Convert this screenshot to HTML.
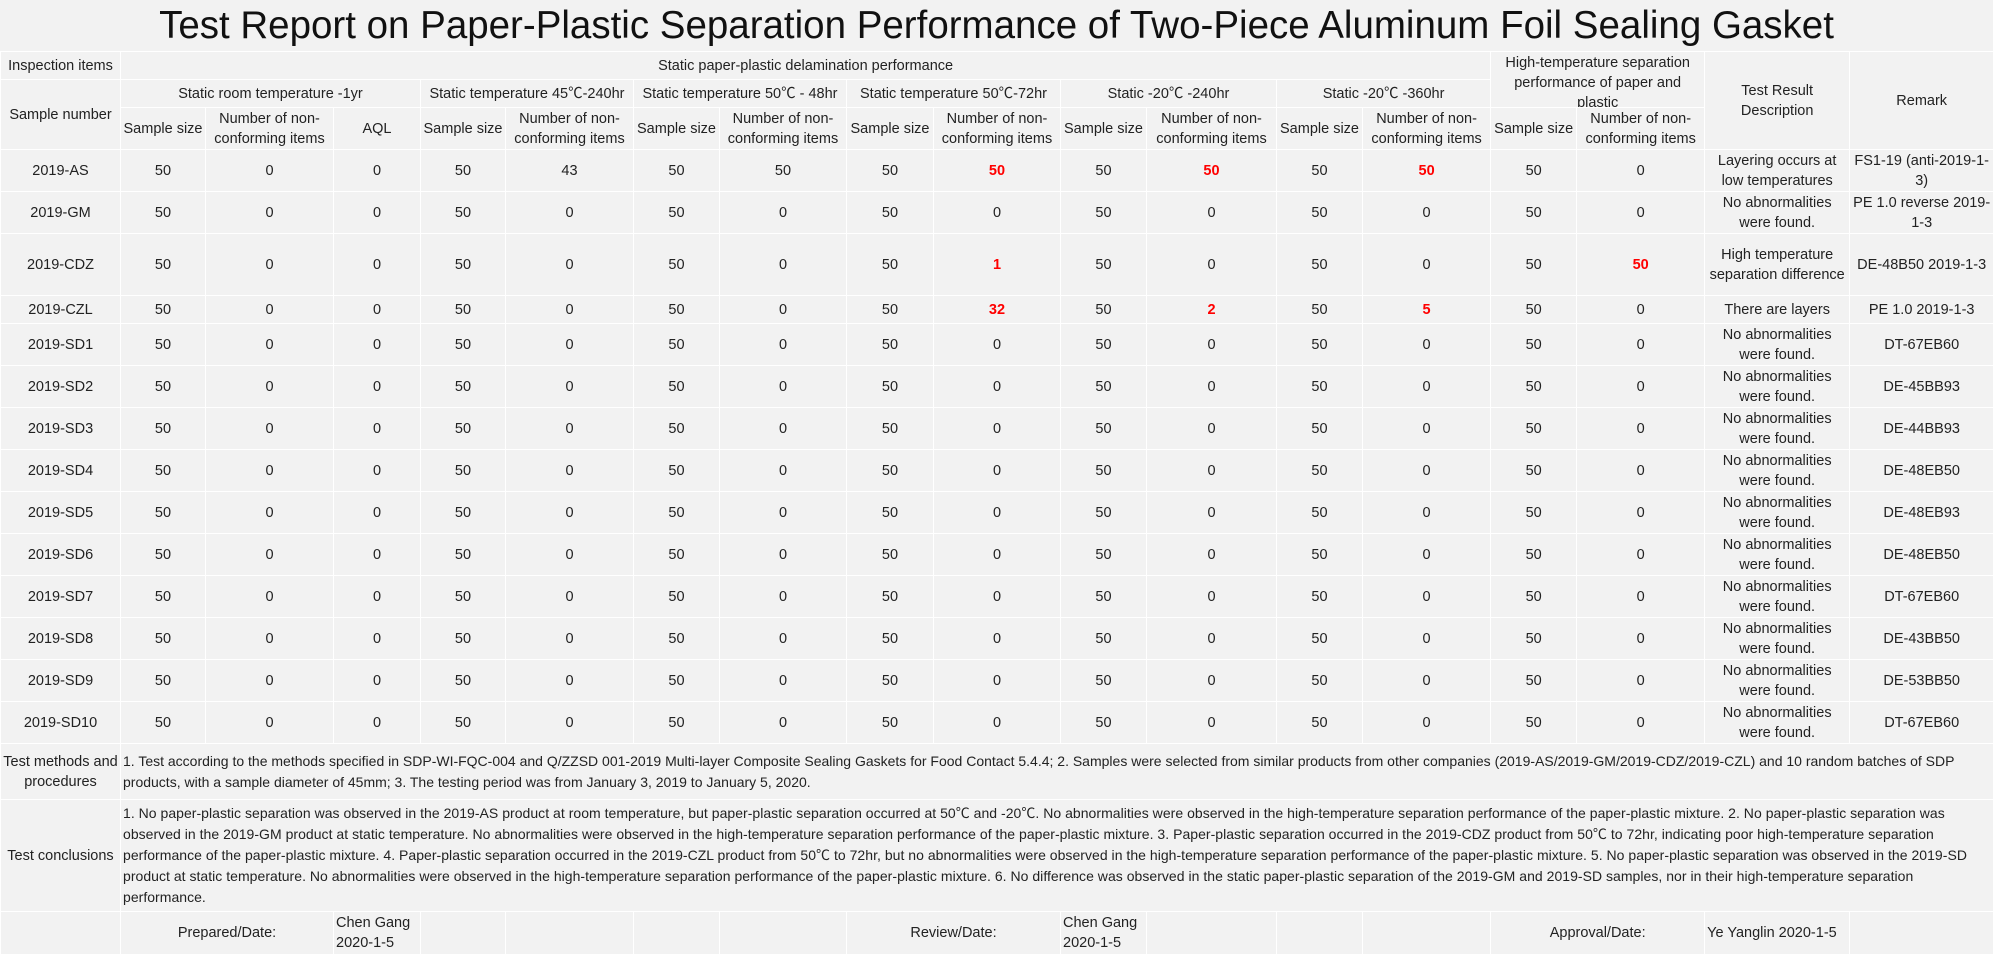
<!DOCTYPE html>
<html><head><meta charset="utf-8"><style>
html,body{margin:0;padding:0;background:#f2f2f2;}
body{width:1993px;height:954px;overflow:hidden;font-family:"Liberation Sans","Noto Sans CJK SC",sans-serif;color:#222;}
.title{height:51px;line-height:51px;text-align:center;font-size:38.5px;color:#111;white-space:nowrap;}
table{border-collapse:collapse;table-layout:fixed;width:1993px;font-size:14.5px;}
td{border:1px solid #fff;text-align:center;vertical-align:middle;padding:0 2px;line-height:20px;overflow:hidden;background:#f2f2f2;}
.r{color:#ff0000;font-weight:bold;}
.l{text-align:left;}
.c{font-size:14px;line-height:21px;}
.cc{letter-spacing:0.03px;}
.clip{height:54px;overflow:hidden;}
</style></head><body>
<div class="title">Test Report on Paper-Plastic Separation Performance of Two-Piece Aluminum Foil Sealing Gasket</div>
<table>
<colgroup>
<col style="width:120px"><col style="width:85px"><col style="width:128px"><col style="width:87px"><col style="width:85px"><col style="width:128px"><col style="width:86px"><col style="width:127px"><col style="width:87px"><col style="width:127px"><col style="width:86px"><col style="width:130px"><col style="width:86px"><col style="width:128px"><col style="width:86px"><col style="width:128px"><col style="width:145px"><col style="width:144px">
</colgroup>
<tr style="height:28px"><td>Inspection items</td><td colspan="13">Static paper-plastic delamination performance</td><td colspan="2" rowspan="2"><div class="clip">High-temperature separation performance of paper and plastic</div></td><td rowspan="3">Test Result Description</td><td rowspan="3">Remark</td></tr>
<tr style="height:28px"><td rowspan="2">Sample number</td><td colspan="3">Static room temperature -1yr</td><td colspan="2">Static temperature 45℃-240hr</td><td colspan="2">Static temperature 50℃ - 48hr</td><td colspan="2">Static temperature 50℃-72hr</td><td colspan="2">Static -20℃ -240hr</td><td colspan="2">Static -20℃ -360hr</td></tr>
<tr style="height:42px"><td>Sample size</td><td>Number of non-conforming items</td><td>AQL</td><td>Sample size</td><td>Number of non-conforming items</td><td>Sample size</td><td>Number of non-conforming items</td><td>Sample size</td><td>Number of non-conforming items</td><td>Sample size</td><td>Number of non-conforming items</td><td>Sample size</td><td>Number of non-conforming items</td><td>Sample size</td><td>Number of non-conforming items</td></tr>
<tr style="height:42px"><td>2019-AS</td><td>50</td><td>0</td><td>0</td><td>50</td><td>43</td><td>50</td><td>50</td><td>50</td><td class="r">50</td><td>50</td><td class="r">50</td><td>50</td><td class="r">50</td><td>50</td><td>0</td><td>Layering occurs at low temperatures</td><td>FS1-19 (anti-2019-1-3)</td></tr>
<tr style="height:42px"><td>2019-GM</td><td>50</td><td>0</td><td>0</td><td>50</td><td>0</td><td>50</td><td>0</td><td>50</td><td>0</td><td>50</td><td>0</td><td>50</td><td>0</td><td>50</td><td>0</td><td>No abnormalities were found.</td><td>PE 1.0 reverse 2019-1-3</td></tr>
<tr style="height:62px"><td>2019-CDZ</td><td>50</td><td>0</td><td>0</td><td>50</td><td>0</td><td>50</td><td>0</td><td>50</td><td class="r">1</td><td>50</td><td>0</td><td>50</td><td>0</td><td>50</td><td class="r">50</td><td>High temperature separation difference</td><td>DE-48B50 2019-1-3</td></tr>
<tr style="height:28px"><td>2019-CZL</td><td>50</td><td>0</td><td>0</td><td>50</td><td>0</td><td>50</td><td>0</td><td>50</td><td class="r">32</td><td>50</td><td class="r">2</td><td>50</td><td class="r">5</td><td>50</td><td>0</td><td>There are layers</td><td>PE 1.0 2019-1-3</td></tr>
<tr style="height:42px"><td>2019-SD1</td><td>50</td><td>0</td><td>0</td><td>50</td><td>0</td><td>50</td><td>0</td><td>50</td><td>0</td><td>50</td><td>0</td><td>50</td><td>0</td><td>50</td><td>0</td><td>No abnormalities were found.</td><td>DT-67EB60</td></tr>
<tr style="height:42px"><td>2019-SD2</td><td>50</td><td>0</td><td>0</td><td>50</td><td>0</td><td>50</td><td>0</td><td>50</td><td>0</td><td>50</td><td>0</td><td>50</td><td>0</td><td>50</td><td>0</td><td>No abnormalities were found.</td><td>DE-45BB93</td></tr>
<tr style="height:42px"><td>2019-SD3</td><td>50</td><td>0</td><td>0</td><td>50</td><td>0</td><td>50</td><td>0</td><td>50</td><td>0</td><td>50</td><td>0</td><td>50</td><td>0</td><td>50</td><td>0</td><td>No abnormalities were found.</td><td>DE-44BB93</td></tr>
<tr style="height:42px"><td>2019-SD4</td><td>50</td><td>0</td><td>0</td><td>50</td><td>0</td><td>50</td><td>0</td><td>50</td><td>0</td><td>50</td><td>0</td><td>50</td><td>0</td><td>50</td><td>0</td><td>No abnormalities were found.</td><td>DE-48EB50</td></tr>
<tr style="height:42px"><td>2019-SD5</td><td>50</td><td>0</td><td>0</td><td>50</td><td>0</td><td>50</td><td>0</td><td>50</td><td>0</td><td>50</td><td>0</td><td>50</td><td>0</td><td>50</td><td>0</td><td>No abnormalities were found.</td><td>DE-48EB93</td></tr>
<tr style="height:42px"><td>2019-SD6</td><td>50</td><td>0</td><td>0</td><td>50</td><td>0</td><td>50</td><td>0</td><td>50</td><td>0</td><td>50</td><td>0</td><td>50</td><td>0</td><td>50</td><td>0</td><td>No abnormalities were found.</td><td>DE-48EB50</td></tr>
<tr style="height:42px"><td>2019-SD7</td><td>50</td><td>0</td><td>0</td><td>50</td><td>0</td><td>50</td><td>0</td><td>50</td><td>0</td><td>50</td><td>0</td><td>50</td><td>0</td><td>50</td><td>0</td><td>No abnormalities were found.</td><td>DT-67EB60</td></tr>
<tr style="height:42px"><td>2019-SD8</td><td>50</td><td>0</td><td>0</td><td>50</td><td>0</td><td>50</td><td>0</td><td>50</td><td>0</td><td>50</td><td>0</td><td>50</td><td>0</td><td>50</td><td>0</td><td>No abnormalities were found.</td><td>DE-43BB50</td></tr>
<tr style="height:42px"><td>2019-SD9</td><td>50</td><td>0</td><td>0</td><td>50</td><td>0</td><td>50</td><td>0</td><td>50</td><td>0</td><td>50</td><td>0</td><td>50</td><td>0</td><td>50</td><td>0</td><td>No abnormalities were found.</td><td>DE-53BB50</td></tr>
<tr style="height:42px"><td>2019-SD10</td><td>50</td><td>0</td><td>0</td><td>50</td><td>0</td><td>50</td><td>0</td><td>50</td><td>0</td><td>50</td><td>0</td><td>50</td><td>0</td><td>50</td><td>0</td><td>No abnormalities were found.</td><td>DT-67EB60</td></tr>
<tr style="height:56px"><td>Test methods and procedures</td><td colspan="17" class="l c">1. Test according to the methods specified in SDP-WI-FQC-004 and Q/ZZSD 001-2019 Multi-layer Composite Sealing Gaskets for Food Contact 5.4.4; 2. Samples were selected from similar products from other companies (2019-AS/2019-GM/2019-CDZ/2019-CZL) and 10 random batches of SDP products, with a sample diameter of 45mm; 3. The testing period was from January 3, 2019 to January 5, 2020.</td></tr>
<tr style="height:112px"><td>Test conclusions</td><td colspan="17" class="l c cc">1. No paper-plastic separation was observed in the 2019-AS product at room temperature, but paper-plastic separation occurred at 50℃ and -20℃. No abnormalities were observed in the high-temperature separation performance of the paper-plastic mixture. 2. No paper-plastic separation was observed in the 2019-GM product at static temperature. No abnormalities were observed in the high-temperature separation performance of the paper-plastic mixture. 3. Paper-plastic separation occurred in the 2019-CDZ product from 50℃ to 72hr, indicating poor high-temperature separation performance of the paper-plastic mixture. 4. Paper-plastic separation occurred in the 2019-CZL product from 50℃ to 72hr, but no abnormalities were observed in the high-temperature separation performance of the paper-plastic mixture. 5. No paper-plastic separation was observed in the 2019-SD product at static temperature. No abnormalities were observed in the high-temperature separation performance of the paper-plastic mixture. 6. No difference was observed in the static paper-plastic separation of the 2019-GM and 2019-SD samples, nor in their high-temperature separation performance.</td></tr>
<tr style="height:43px"><td></td><td colspan="2">Prepared/Date:</td><td class="l">Chen Gang 2020-1-5</td><td></td><td></td><td></td><td></td><td colspan="2">Review/Date:</td><td class="l">Chen Gang 2020-1-5</td><td></td><td></td><td></td><td colspan="2">Approval/Date:</td><td class="l">Ye Yanglin 2020-1-5</td><td></td></tr>
</table>
</body></html>
